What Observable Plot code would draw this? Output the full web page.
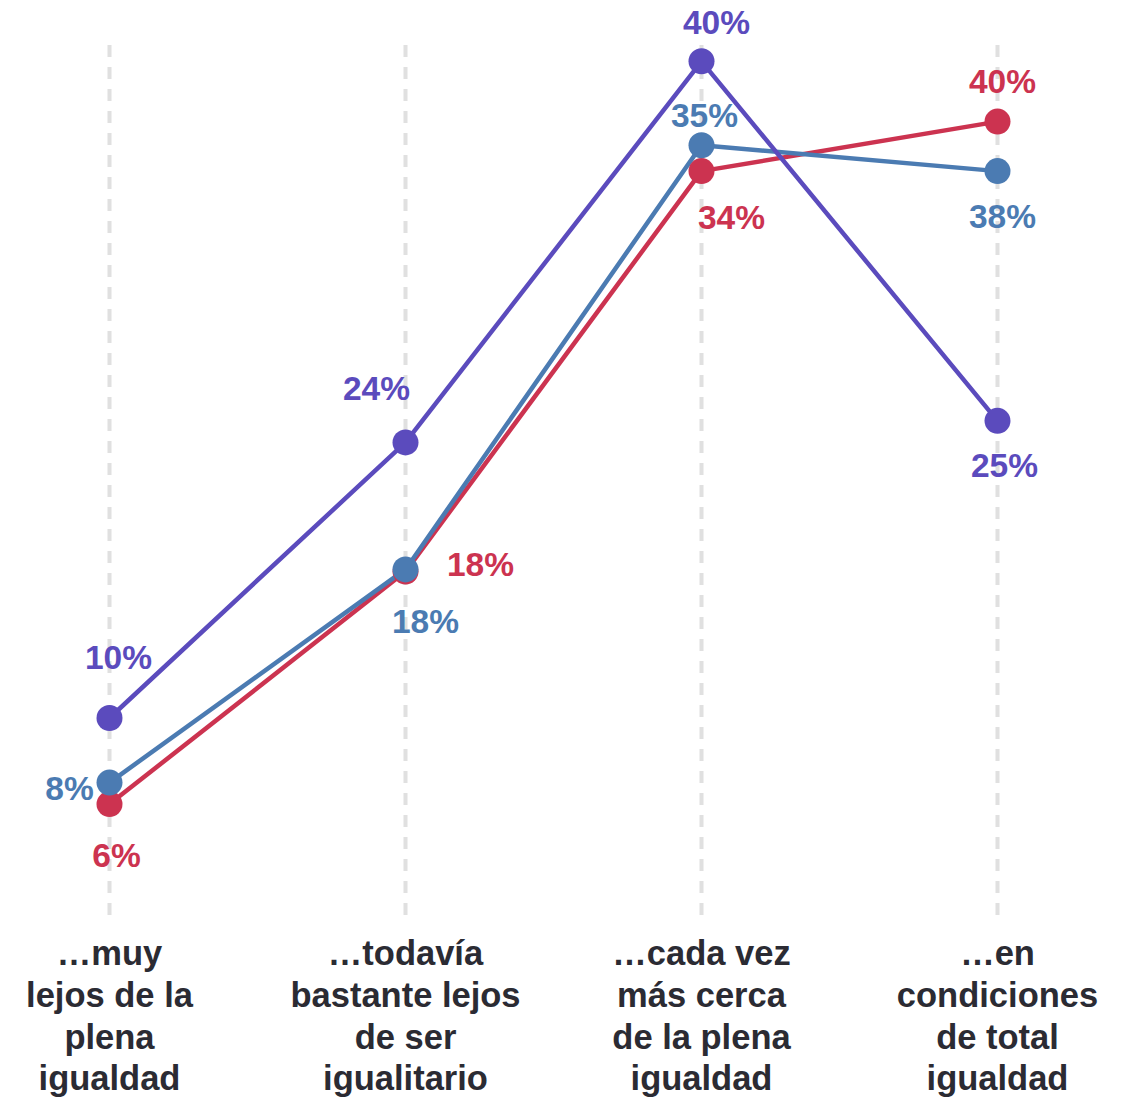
<!DOCTYPE html>
<html><head><meta charset="utf-8">
<script src="https://cdn.jsdelivr.net/npm/d3@7"></script>
<script src="https://cdn.jsdelivr.net/npm/@observablehq/plot@0.6"></script>
<style>
body{margin:0;background:#fff;}
#chart svg{display:block;}
</style>
</head><body><div id="chart"></div>
<script>
// Categories (x axis)
const categories = [
  "…muy\nlejos de la\nplena\nigualdad",
  "…todavía\nbastante lejos\nde ser\nigualitario",
  "…cada vez\nmás cerca\nde la plena\nigualdad",
  "…en\ncondiciones\nde total\nigualdad"
];
const seriesNames = ["Serie morada", "Serie azul", "Serie roja"];
// Plotted positions (%)
const purpleValues = [10.6, 23.4, 41.1, 24.4];
const blueValues   = [7.6, 17.5, 37.2, 36.0];
const redValues    = [6.6, 17.4, 36.0, 38.3];
// Printed labels
const purpleLabels = ["10%", "24%", "40%", "25%"];
const blueLabels   = ["8%", "18%", "35%", "38%"];
const redLabels    = ["6%", "18%", "34%", "40%"];
const colors = ["#5b4bbd", "#4b7bb2", "#cc3350"];
// Label placement offsets [dx, dy] (px)
const labelOffsets = {
  "Serie morada": [[9, -60], [-29, -53], [15, -38], [7, 45]],
  "Serie azul":   [[-40, 7], [20, 53], [3, -29], [5, 46]],
  "Serie roja":   [[7, 52], [75, -6], [30, 47], [5, -39]]
};

const seriesValues = [purpleValues, blueValues, redValues];
const seriesLabels = [purpleLabels, blueLabels, redLabels];
const rows = [];
seriesNames.forEach((s, i) => {
  categories.forEach((c, j) => {
    rows.push({series: s, category: c, value: seriesValues[i][j], label: seriesLabels[i][j],
               dx: labelOffsets[s][j][0], dy: labelOffsets[s][j][1]});
  });
});
const drawOrder = ["Serie roja", "Serie azul", "Serie morada"];
const font = "'Liberation Sans', Arial, Helvetica, sans-serif";

const marks = [
  Plot.gridX({stroke: "#e0e0e0", strokeOpacity: 1, strokeWidth: 4, strokeDasharray: "12,10"}),
  Plot.axisX({tickSize: 0, tickPadding: 10, fontSize: 34.5, fontWeight: "bold", lineHeight: 1.21, label: null, fill: "#2b2b33"}),
  ...drawOrder.map(s => Plot.line(rows.filter(d => d.series === s), {x: "category", y: "value", stroke: "series", strokeWidth: 4.5})),
  ...drawOrder.map(s => Plot.dot(rows.filter(d => d.series === s), {x: "category", y: "value", fill: "series", r: 13, stroke: null})),
  ...rows.map(d => Plot.text([d], {x: "category", y: "value", text: "label", fill: "series",
      dx: d.dx, dy: d.dy, fontSize: 33.5, fontWeight: "bold"}))
];

const chart = Plot.plot({
  width: 1122,
  height: 1099,
  marginLeft: 108,
  marginRight: 124,
  marginTop: 45,
  marginBottom: 174,
  style: {fontFamily: font, background: "#fff"},
  x: {type: "point", domain: categories, padding: 0},
  y: {domain: [0, 40], range: [945.7, 84.5], axis: null},
  color: {domain: seriesNames, range: colors},
  marks
});
document.getElementById("chart").appendChild(chart);
</script>
</body></html>
